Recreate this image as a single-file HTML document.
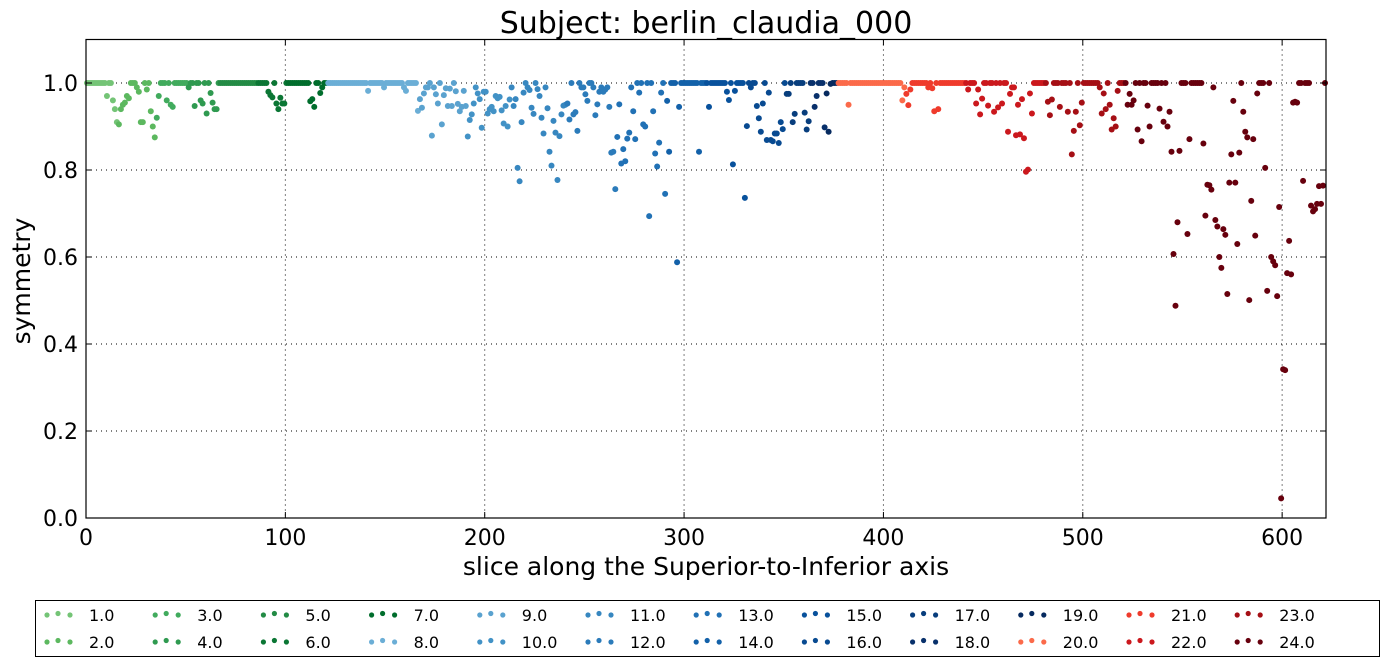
<!DOCTYPE html>
<html><head><meta charset="utf-8"><style>
html,body{margin:0;padding:0;background:#fff;}
svg{display:block;font-family:"DejaVu Sans","Liberation Sans",sans-serif;}
</style></head><body>
<svg id="chart" width="1387" height="667" viewBox="0 0 1387 667" xmlns="http://www.w3.org/2000/svg">
<rect x="0" y="0" width="1387" height="667" fill="#fff"/>
<text x="706" y="33" font-size="30" text-anchor="middle">Subject: berlin_claudia_000</text>
<g id="grid"></g>
<g id="points"></g>
<rect x="86" y="39.5" width="1240" height="478.5" fill="none" stroke="#000" stroke-width="1.2"/>
<g id="ticks"></g>
<text x="706" y="575" font-size="25" text-anchor="middle">slice along the Superior-to-Inferior axis</text>
<text x="30" y="281" font-size="25" text-anchor="middle" transform="rotate(-90 30 281)">symmetry</text>
<rect x="35.5" y="600.5" width="1344" height="56" fill="#fff" stroke="#000" stroke-width="1"/>
<g id="legend"></g>
</svg>
<script>
const symmetryValues = [
1,1,1,1,1,1,1,1,1,1,.97,1,1,.96,.94,.91,.905,.94,.95,.955,
.97,.965,1,1,1,.99,.98,.91,.91,1,.985,1,.935,.9,.875,.92,.97,1,1,1,
.96,1,.95,.945,1,1,1,1,1,1,1,.99,1,1,.947,1,1,.96,.953,1,
.93,1,.977,.955,.94,.94,1,1,1,1,1,1,1,1,1,1,1,1,1,1,
1,1,1,1,1,1,1,1,1,1,1,.98,.972,.967,1,.953,.94,.966,.953,.953,
1,1,1,1,1,1,1,1,1,1,1,1,.958,.963,.945,1,1,.977,.99,1,
1,1,1,1,1,1,1,1,1,1,1,1,1,1,1,1,1,1,1,1,
1,.982,1,1,1,1,1,1,1,.99,1,1,1,1,1,1,1,1,1,.99,
.982,1,1,1,1,1,.936,.963,.943,.976,.99,.99,1,.879,.99,.974,.953,1,.905,.972,
.988,.947,.987,.947,1,.981,.952,.935,.945,.982,.947,.877,.915,.928,.953,.99,.976,.963,.897,.98,
.98,.93,.94,.945,.935,.97,.965,.968,.937,.907,.947,.9,.962,.99,.947,.963,.805,.774,.91,.978,
1,.99,.984,.943,.929,1,.986,.97,.92,.884,.99,.942,.842,.81,.913,.886,.777,.878,.928,.948,
.95,.953,.916,1,.928,.933,.89,1,.99,.99,.974,.959,1,1,.99,.926,.951,.98,.99,.98,
.985,.99,.945,.84,.842,.756,.876,.951,.815,.848,.82,.872,.886,.99,.935,.871,1,.978,1,.905,
.9,1,.694,1,.935,.838,.808,.863,.978,1,.745,.959,.842,1,1,1,.588,.945,1,1,
1,1,1,1,1,1,1,.842,1,1,1,1,.945,1,1,1,1,1,1,1,
1,.98,.961,1,.813,.982,1,1,1,1,.736,.901,1,.99,1,1,.947,.919,.888,.953,
1,.869,.978,.869,.866,.884,.884,.862,.91,.894,1,.975,.975,1,.91,.929,1,1,1,1,
.932,.893,.912,1,1,.945,.97,1,1,1,.898,.976,.888,.998,1,1,1,1,1,1,
1,1,.95,1,1,1,1,1,1,1,1,1,1,1,1,1,1,1,1,1,
1,1,1,1,1,1,1,1,1,.96,.99,.975,.949,.985,1,1,1,1,1,1,
1,1,.99,1,.988,.935,1,.94,1,1,1,1,1,1,1,1,1,1,1,1,
1,1,.985,1,1,1,.953,.985,.928,.964,1,1,.948,1,1,.934,1,.944,1,.953,
1,1,.888,.975,.99,.99,.88,.95,.882,.963,.873,.796,.801,.976,.93,1,1,1,1,1,
1,1,.957,.926,.962,1,1,1,.945,1,1,1,.934,1,.836,.89,.934,1,.903,.955,
1,1,1,1,1,1,1,1,.99,.93,.976,.94,1,.95,.893,.919,.9,.982,1,1,
1,1,.95,.975,.95,.96,1,.893,1,.866,1,1,.948,.9,1,1,1,1,.941,1,
.911,1,.9,.934,.842,.607,.488,.68,.844,1,1,1,.653,.871,1,1,1,1,1,1,
.861,.695,.766,.765,.755,.99,.685,.67,.6,.575,.664,.651,.515,.771,.836,.959,.771,.63,.84,1,
.934,.888,.875,.501,.729,.871,.649,.976,1,1,1,.805,.522,1,.6,.59,.581,.51,.715,.045,
.342,.34,.563,.637,.56,.955,.957,.955,1,1,.775,1,1,1,.718,.705,.71,.722,.763,.722,
.764,1
];
const groupStarts = [0,16,35,51,67,86,101,121,167,191,213,241,266,291,311,331,351,363,371,377,411,441,481,521];
const groupLabels = ["1.0","2.0","3.0","4.0","5.0","6.0","7.0","8.0","9.0","10.0","11.0","12.0","13.0","14.0","15.0","16.0","17.0","18.0","19.0","20.0","21.0","22.0","23.0","24.0"];
const xTicks = [0,100,200,300,400,500,600];
const yTicks = [0.0,0.2,0.4,0.6,0.8,1.0];
const groupColors = ["#74c476","#5cb85f","#41ab5d","#2f9a50","#238b45","#0b7634","#006d2c","#6baed6","#5aa2cf","#4292c6","#3787c0","#2b7bba","#2171b5","#1361a9","#08519c","#084a91","#083e7d","#08306b","#062a5f","#fb6a4a","#ef3b2c","#cb181d","#a50f15","#67000d"];
const NS="http://www.w3.org/2000/svg";
const X0=86,X1=1326,Y0=518,Y1=39.5,XMAX=622,YMAX=1.1;
function xs(v){return X0+(X1-X0)*v/XMAX;}
function ys(v){return Y0-(Y0-Y1)*v/YMAX;}
function mk(tag,attrs,parent){const e=document.createElementNS(NS,tag);for(const k in attrs)e.setAttribute(k,attrs[k]);parent.appendChild(e);return e;}
const grid=document.getElementById('grid'),ticks=document.getElementById('ticks'),pts=document.getElementById('points'),leg=document.getElementById('legend');
xTicks.forEach(t=>{
  const x=xs(t);
  if(t>0){const g=mk('line',{x1:x,x2:x,y1:Y1,y2:Y0,stroke:'#000','stroke-width':1,'stroke-dasharray':'1,4'},grid);
  
  }
  mk('line',{x1:x,x2:x,y1:Y0,y2:Y0-6,stroke:'#000','stroke-width':1},ticks);
  mk('line',{x1:x,x2:x,y1:Y1,y2:Y1+6,stroke:'#000','stroke-width':1},ticks);
  const tx=mk('text',{x:x,y:Y0+27,'font-size':22,'text-anchor':'middle'},ticks);
  
  
  tx.textContent=t;
});
yTicks.forEach(t=>{
  const y=ys(t);
  if(t>0){const g=mk('line',{x1:X0,x2:X1,y1:y,y2:y,stroke:'#000','stroke-width':1,'stroke-dasharray':'1,4'},grid);
  
  }
  mk('line',{x1:X0,x2:X0+6,y1:y,y2:y,stroke:'#000','stroke-width':1},ticks);
  mk('line',{x1:X1,x2:X1-6,y1:y,y2:y,stroke:'#000','stroke-width':1},ticks);
  const tx=mk('text',{x:X0-8,y:y+8,'font-size':22,'text-anchor':'end'},ticks);
  
  
  tx.textContent=t.toFixed(1);
});
function groupOf(i){let g=0;for(let k=0;k<groupStarts.length;k++){if(i>=groupStarts[k])g=k;}return g;}
symmetryValues.forEach((v,i)=>{
  const c=mk('circle',{cx:xs(i+0.5),cy:ys(v),r:3,fill:groupColors[groupOf(i)]},pts);
  
  
});
groupLabels.forEach((lab,k)=>{
  const col=Math.floor(k/2),row=k%2;
  const lx=89+col*108.2,ly=614+row*27;
  const g=mk('g',{},leg);
  
  
  [[-42,0],[-31,-1.5],[-19,0]].forEach(d=>mk('circle',{cx:lx+d[0],cy:ly+d[1]+1,r:2.6,fill:groupColors[k]},g));
  const t=mk('text',{x:lx,y:ly+7,'font-size':16},g);
  t.textContent=lab;
});
</script>
</body></html>
